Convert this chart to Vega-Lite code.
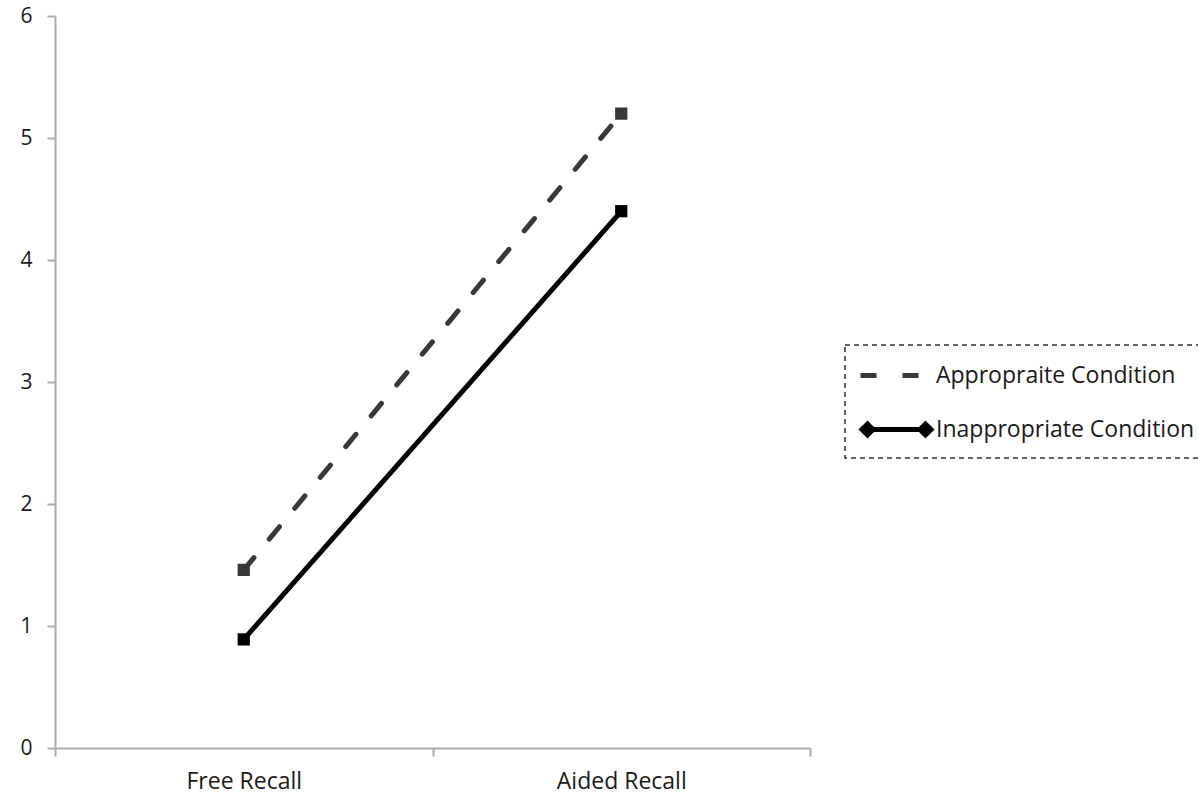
{
  "$schema": "https://vega.github.io/schema/vega-lite/v6.json",
  "width": 755,
  "height": 732,
  "autosize": {"type": "none"},
  "padding": {"left": 55, "top": 16, "right": 388, "bottom": 50},
  "background": "white",
  "config": {
    "view": {"stroke": null},
    "font": "Open Sans",
    "axis": {
      "grid": false,
      "domainColor": "#ababab",
      "domainWidth": 2,
      "tickColor": "#ababab",
      "tickWidth": 2,
      "tickSize": 8,
      "labelFont": "Open Sans",
      "labelFontSize": 21,
      "labelColor": "#1a1a1a",
      "title": null
    },
    "legend": {
      "strokeColor": "#333333",
      "strokeWidth": 1.5,
      "strokeDash": [5, 4]
    }
  },
  "data": {
    "values": [
      {"recall": "Free Recall", "condition": "Appropraite Condition", "score": 1.46},
      {"recall": "Aided Recall", "condition": "Appropraite Condition", "score": 5.2},
      {"recall": "Free Recall", "condition": "Inappropriate Condition", "score": 0.89},
      {"recall": "Aided Recall", "condition": "Inappropriate Condition", "score": 4.4}
    ]
  },
  "encoding": {
    "x": {
      "field": "recall",
      "type": "nominal",
      "sort": ["Free Recall", "Aided Recall"],
      "scale": {"type": "band", "paddingInner": 0, "paddingOuter": 0},
      "axis": {"labelAngle": 0, "tickBand": "extent", "labelPadding": 14, "labelFontSize": 23, "title": null}
    },
    "y": {
      "field": "score",
      "type": "quantitative",
      "scale": {"domain": [0, 6], "nice": false, "zero": true},
      "axis": {"values": [0, 1, 2, 3, 4, 5, 6], "labelPadding": 15, "title": null}
    },
    "color": {
      "field": "condition",
      "type": "nominal",
      "scale": {"domain": ["Appropraite Condition", "Inappropriate Condition"], "range": ["#383838", "#000000"]},
      "legend": {
        "title": null,
        "orient": "none",
        "legendX": 790,
        "legendY": 329,
        "padding": 13,
        "rowPadding": 24,
        "symbolSize": 900,
        "symbolStrokeWidth": 5,
        "labelOffset": 43,
        "labelFont": "Open Sans",
        "labelFontSize": 23,
        "labelColor": "#1a1a1a",
        "labelLimit": 600,
        "encode": {
          "symbols": {
            "update": {
              "opacity": {"value": 1},
              "fillOpacity": {"value": 1},
              "strokeOpacity": {"value": 1},
              "strokeWidth": {"value": 5},
              "stroke": {"scale": "color", "field": "value"},
              "fill": {"scale": "color", "field": "value"}
            }
          }
        }
      }
    }
  },
  "layer": [
    {
      "mark": {"type": "line", "strokeWidth": 5, "strokeCap": "round"},
      "encoding": {
        "strokeDash": {
          "field": "condition",
          "type": "nominal",
          "scale": {"domain": ["Appropraite Condition", "Inappropriate Condition"], "range": [[16, 24], [1, 0]]},
          "legend": null
        }
      }
    },
    {
      "mark": {"type": "point", "shape": "square", "filled": true, "size": 150, "opacity": 1}
    },
    {
      "mark": {"type": "point", "filled": true, "size": 900, "opacity": 0},
      "encoding": {
        "shape": {
          "field": "condition",
          "type": "nominal",
          "scale": {
            "domain": ["Appropraite Condition", "Inappropriate Condition"],
            "range": [
              "M-1,0H0.6M1.8,0H3.4",
              "M-0.53,0H3.33M-0.9,0L-0.53,-0.36L-0.17,0L-0.53,0.36ZM2.97,0L3.33,-0.36L3.7,0L3.33,0.36Z"
            ]
          }
        }
      }
    }
  ]
}
